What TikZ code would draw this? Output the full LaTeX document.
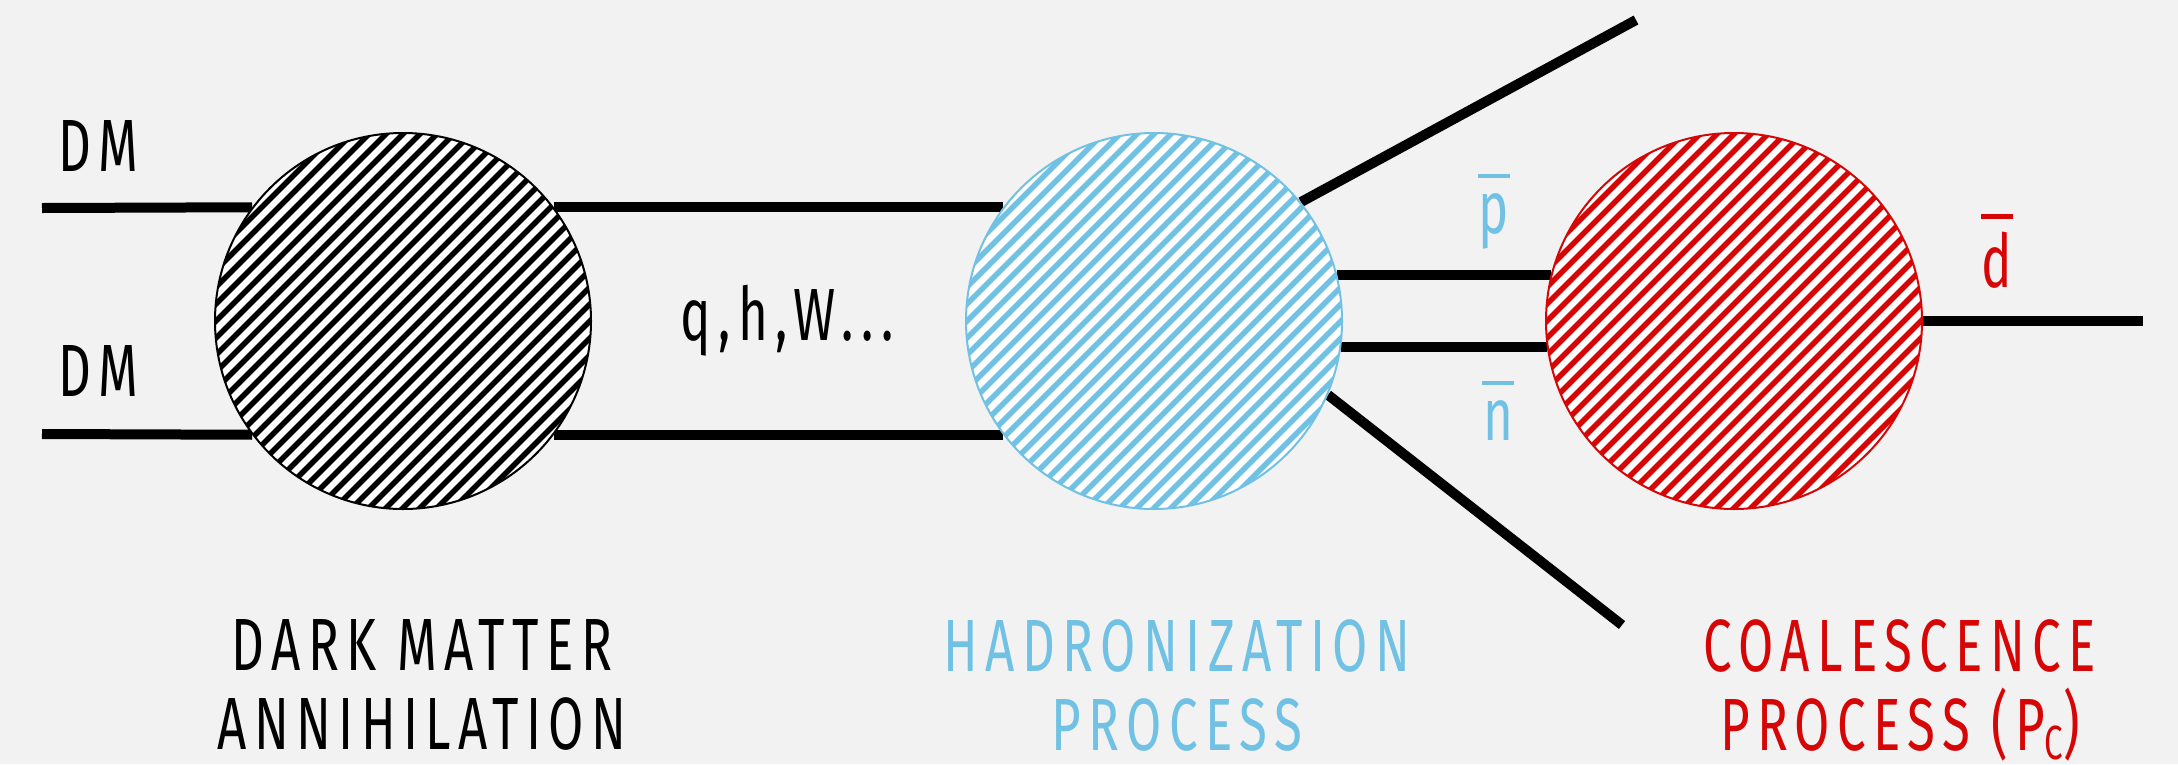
\documentclass[tikz,border=0pt]{standalone}
\usepackage{fontspec}
\setmainfont{Fira Sans}[FakeStretch=0.69, LetterSpace=10]
\usetikzlibrary{backgrounds}
\definecolor{bg}{HTML}{F2F2F2}
\definecolor{hblue}{HTML}{70C1E3}
\definecolor{hred}{HTML}{D70606}
\newcommand\abar[2]{\setbox0\hbox{#1}\vbox{\offinterlineskip\hbox to \wd0{\hss\rule{32pt}{4.5pt}\hss}\kern #2\box0}}
\tikzset{
  blob/.style={circle, minimum size=376pt, inner sep=0pt, line width=2pt, draw=#1, fill=white,
    path picture={\foreach \i in {-26,...,26}
      \draw[#1, line width=5.6pt] ([shift={(\i*17-300,300)}]path picture bounding box.center) -- ++(600,-600);}},
  leg/.style={line width=10pt, black},
  lbl/.style={font=\fontsize{74}{79}\selectfont, inner sep=0pt},
}
\begin{document}
\begin{tikzpicture}[x=1pt, y=-1pt]
\useasboundingbox (0,0) rectangle (2178,764);
\node[blob=black] (dm) at (403,321) {};
\node[blob=hblue] (hd) at (1154,321) {};
\node[blob=hred] (rd) at (1734,321) {};
\coordinate (dmin1) at (42,208);
\coordinate (dmin2) at (42,434);
\coordinate (up) at (1636,20);
\coordinate (lo) at (1622,625);
\coordinate (dout) at (2143,321);
\begin{pgfonlayer}{background}
\fill[bg] (0,0) rectangle (2178,764);
\draw[leg] (dmin1) -- (dm.143);
\draw[leg] (dmin2) -- (dm.217);
\draw[leg] (dm.37) -- (hd.143);
\draw[leg] (dm.323) -- (hd.217);
\draw[leg] (hd.39) -- (up);
\draw[leg] (hd.-23) -- (lo);
\draw[leg] (hd.14) -- (rd.166);
\draw[leg] (hd.-8) -- (rd.188);
\draw[leg] (rd.0) -- (dout);
\end{pgfonlayer}
\node[lbl, anchor=base] (t1) at (98,171) {DM};
\node[lbl, anchor=base] (t2) at (98,396) {DM};
\node[lbl, anchor=base] (qhw) at (787,340) {q,h,W...};
\node[lbl, anchor=base, text=hblue] (pb) at (1494,233) {\abar{p}{15pt}};
\node[lbl, anchor=base, text=hblue] (nb) at (1498,440) {\abar{n}{15pt}};
\node[lbl, anchor=base, text=hred] (db) at (1997,287) {\abar{d}{13pt}};
\node[lbl, anchor=north, align=center] (c1) at (422,619) {DARK MATTER\\ANNIHILATION};
\node[lbl, anchor=north, align=center, text=hblue] (c2) at (1177,619) {HADRONIZATION\\PROCESS};
\node[lbl, anchor=north, align=center, text=hred] (c3) at (1900,619) {COALESCENCE\\PROCESS (P\raisebox{-9pt}{\fontsize{48}{48}\selectfont C})};
\end{tikzpicture}
\end{document}
